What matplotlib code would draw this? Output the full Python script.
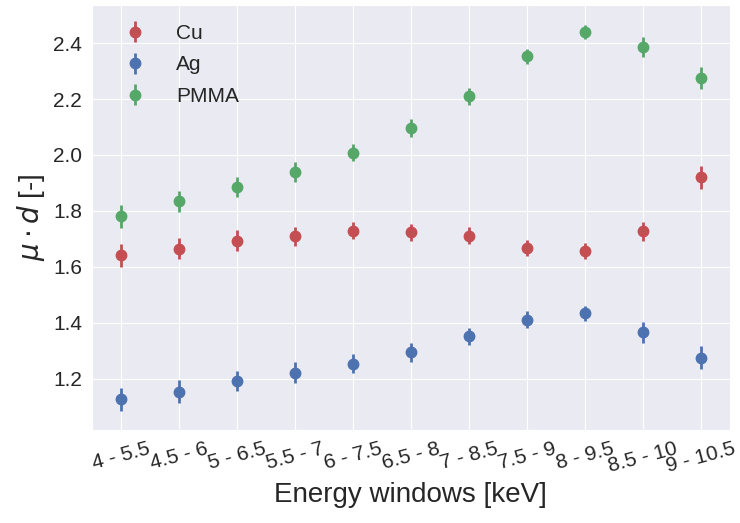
import numpy as np
import matplotlib
matplotlib.use('Agg')
import matplotlib.pyplot as plt
import seaborn as sns

windows = ['4 - 5.5', '4.5 - 6', '5 - 6.5', '5.5 - 7', '6 - 7.5', '6.5 - 8',
           '7 - 8.5', '7.5 - 9', '8 - 9.5', '8.5 - 10', '9 - 10.5']

cu = [1.642, 1.665, 1.694, 1.709, 1.730, 1.724, 1.712, 1.668, 1.657, 1.728, 1.920]
cu_err = [0.041, 0.038, 0.037, 0.034, 0.030, 0.031, 0.030, 0.030, 0.027, 0.034, 0.040]

ag = [1.127, 1.155, 1.193, 1.223, 1.255, 1.296, 1.352, 1.412, 1.434, 1.366, 1.275]
ag_err = [0.040, 0.040, 0.037, 0.036, 0.034, 0.034, 0.030, 0.030, 0.027, 0.036, 0.041]

pmma = [1.781, 1.834, 1.887, 1.938, 2.008, 2.097, 2.210, 2.353, 2.440, 2.385, 2.275]
pmma_err = [0.041, 0.037, 0.036, 0.036, 0.031, 0.031, 0.031, 0.027, 0.026, 0.036, 0.040]

sns.set_style('darkgrid')
plt.rcParams['font.family'] = ['Liberation Sans', 'DejaVu Sans']
plt.rcParams['mathtext.fontset'] = 'dejavusans'

fig, ax = plt.subplots(figsize=(7.4, 5.23), dpi=100)
x = np.arange(len(windows))

# измерения с погрешностями
ax.errorbar(x, cu, yerr=cu_err, fmt='o', color='#C44E52', ms=7.5, elinewidth=2, label='Cu')
ax.errorbar(x, ag, yerr=ag_err, fmt='o', color='#4C72B0', ms=7.5, elinewidth=2, label='Ag')
ax.errorbar(x, pmma, yerr=pmma_err, fmt='o', color='#55A868', ms=7.5, elinewidth=2, label='PMMA')

ax.set_xticks(x)
ax.set_xticklabels(windows, rotation=15, fontsize=15)
ax.tick_params(axis='y', labelsize=15)
ax.set_xlabel('Energy windows [keV]', fontsize=20)
ax.set_ylabel(r'$\mu \cdot d$ [-]', fontsize=20)
ax.legend(loc='upper left', bbox_to_anchor=(0.006, 1.0), fontsize=15, frameon=False,
          labelspacing=0.6, handletextpad=0.95)

plt.subplots_adjust(left=0.124, right=0.986, top=0.99, bottom=0.178)
plt.savefig('out.png', dpi=100)
